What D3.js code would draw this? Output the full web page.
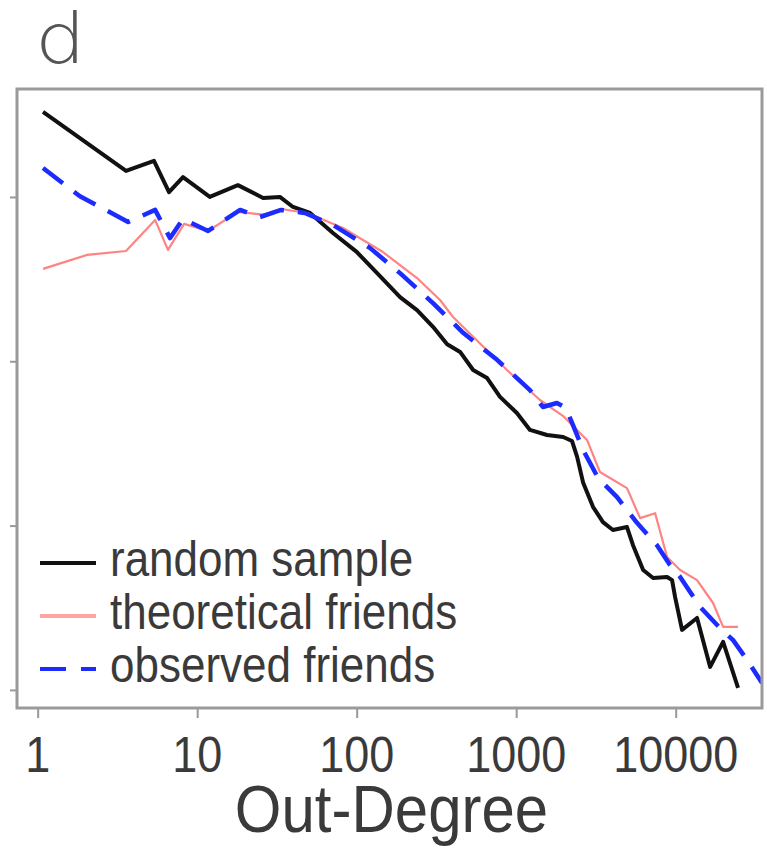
<!DOCTYPE html>
<html>
<head>
<meta charset="utf-8">
<script src="https://cdn.jsdelivr.net/npm/d3@7"></script>
<style>
	html, body { margin: 0; padding: 0; background: #fff; }
	svg { display: block; }
	text { font-family: "Liberation Sans", Arial, sans-serif; fill: #3a3a3a; }
</style>
</head>
<body>
<svg id="chart" width="767" height="849"></svg>
<script>
	// --- data ---
	const xTicks = [1, 10, 100, 1000, 10000];
	const yTicks = [1e-1, 1e-2, 1e-3, 1e-4];

	const randomX = [1.08, 3.58, 5.36, 6.66, 8.15, 12.0, 18.0, 25.9, 33.0, 39.9, 51.0, 71.0, 100, 140, 187, 239, 301, 369, 445, 537, 657, 792, 1010, 1220, 1560, 1970, 2240, 2410, 2630, 3030, 3500, 4040, 4950, 5400, 6250, 7220, 8830, 9490, 9910, 10960, 13610, 16440, 19830, 24600];
	const randomY = [0.329, 0.144, 0.166, 0.107, 0.132, 0.100, 0.118, 0.0986, 0.100, 0.0869, 0.0799, 0.0604, 0.0463, 0.0330, 0.0246, 0.0205, 0.0162, 0.0127, 0.0114, 0.00885, 0.00791, 0.00607, 0.00484, 0.00382, 0.00356, 0.00346, 0.00327, 0.00262, 0.00182, 0.00130, 0.00105, 0.00094, 0.00098, 0.00076, 0.000537, 0.00048, 0.000487, 0.000466, 0.000368, 0.000232, 0.000274, 0.000138, 0.000196, 0.000103];

	const theoX = [1.08, 2.04, 3.58, 5.45, 6.56, 8.28, 11.7, 18.0, 26.6, 33.6, 48.9, 82.1, 146, 239, 333, 402, 875, 1410, 1970, 2510, 2780, 3350, 4950, 5980, 7430, 8830, 10660, 13610, 17150, 19830, 24600];
	const theoY = [0.0365, 0.0444, 0.0469, 0.0725, 0.0476, 0.0686, 0.0621, 0.0811, 0.0777, 0.0845, 0.0799, 0.0647, 0.0462, 0.0321, 0.0236, 0.0186, 0.00885, 0.00581, 0.00464, 0.00366, 0.00332, 0.00212, 0.00169, 0.00111, 0.00119, 0.000644, 0.000537, 0.000466, 0.000338, 0.000242, 0.000242];

	const obsX = [1.08, 1.84, 3.69, 5.45, 6.76, 8.15, 11.7, 18.6, 24.8, 33.6, 47.3, 71.0, 121, 187, 301, 465, 759, 1220, 1470, 1800, 2050, 2270, 2630, 3260, 4290, 5720, 7630, 9210, 10660, 14220, 18970, 22900, 28050, 34800];
	const obsY = [0.150, 0.101, 0.0705, 0.0834, 0.0562, 0.0735, 0.0621, 0.0834, 0.0755, 0.0834, 0.0799, 0.0676, 0.0490, 0.0344, 0.0226, 0.0149, 0.0102, 0.00668, 0.00527, 0.00557, 0.00520, 0.00409, 0.00288, 0.00195, 0.00149, 0.00104, 0.00076, 0.000575, 0.000487, 0.000320, 0.000238, 0.000201, 0.000152, 0.000110];

	const series = [
		{ name: "random sample", xs: randomX, ys: randomY, color: "#111", width: 4, dash: null, legColor: "#111", legWidth: 4 },
		{ name: "theoretical friends", xs: theoX, ys: theoY, color: "#ff8383", width: 2.2, dash: null, legColor: "#ffa3a3", legWidth: 4 },
		{ name: "observed friends", xs: obsX, ys: obsY, color: "#1c2cff", width: 4.5, dash: "25,14", legColor: "#1c2cff", legWidth: 4 }
	];

	// --- layout ---
	const frame = { left: 17, top: 89, right: 762, bottom: 708 };
	const iw = frame.right - frame.left, ih = frame.bottom - frame.top;
	const stretch = 1.12; // glyphs in the figure are a bit tall

	const svg = d3.select("#chart");
	const g = svg.append("g").attr("transform", `translate(${frame.left}, ${frame.top})`);

	const x = d3.scaleLog().domain([0.742, 34760]).range([0, iw]);
	const y = d3.scaleLog().domain([7.76e-5, 0.454]).range([ih, 0]);

	svg.append("defs").append("clipPath").attr("id", "plot-clip")
		.append("rect").attr("width", iw).attr("height", ih);

	function label(sel, tx, ty, str, size, anchor) {
		return sel.append("text")
			.attr("transform", `translate(${tx}, ${ty}) scale(1, ${stretch})`)
			.attr("text-anchor", anchor || "start")
			.attr("font-size", size + "px")
			.text(str);
	}

	// axes
	const xAxis = g.append("g")
		.attr("transform", `translate(0, ${ih})`)
		.call(d3.axisBottom(x).tickValues(xTicks).tickSize(10).tickFormat(""));
	const yAxis = g.append("g")
		.call(d3.axisLeft(y).tickValues(yTicks).tickSize(7).tickFormat(""));
	[xAxis, yAxis].forEach(a => {
		a.select(".domain").remove();
		a.selectAll(".tick line").attr("stroke", "#999").attr("stroke-width", 2);
	});

	xTicks.forEach(t => label(g, x(t), ih + 64, d3.format("d")(t), 45, "middle"));
	label(g, iw / 2 + 2, ih + 124, "Out-Degree", 60, "middle");

	// lines
	const line = d3.line().x(d => x(d[0])).y(d => y(d[1]));
	const plot = g.append("g").attr("clip-path", "url(#plot-clip)");
	series.forEach(s => {
		plot.append("path")
			.datum(d3.zip(s.xs, s.ys))
			.attr("fill", "none")
			.attr("stroke", s.color)
			.attr("stroke-width", s.width)
			.attr("stroke-linejoin", "round")
			.attr("stroke-dasharray", s.dash)
			.attr("d", line);
	});

	// legend
	const leg = g.append("g").attr("transform", `translate(${40 - frame.left}, ${563 - frame.top})`);
	series.forEach((s, i) => {
		const row = leg.append("g").attr("transform", `translate(0, ${i * 53})`);
		row.append("line")
			.attr("x1", 0).attr("x2", 56)
			.attr("stroke", s.legColor)
			.attr("stroke-width", s.legWidth)
			.attr("stroke-dasharray", s.dash ? "26,15" : null);
		label(row, 70, 13, s.name, 44, "start");
	});

	// frame
	g.append("rect")
		.attr("width", iw).attr("height", ih)
		.attr("fill", "none").attr("stroke", "#9a9a9a").attr("stroke-width", 3);

	// panel letter (thin, round glyph in the figure)
	svg.append("text")
		.attr("transform", "translate(35, 63) scale(1.25, 1.08)")
		.style("font-family", "'DejaVu Sans', sans-serif")
		.style("font-weight", 200)
		.style("font-size", "64px")
		.style("fill", "#555")
		.text("d");
</script>
</body>
</html>
